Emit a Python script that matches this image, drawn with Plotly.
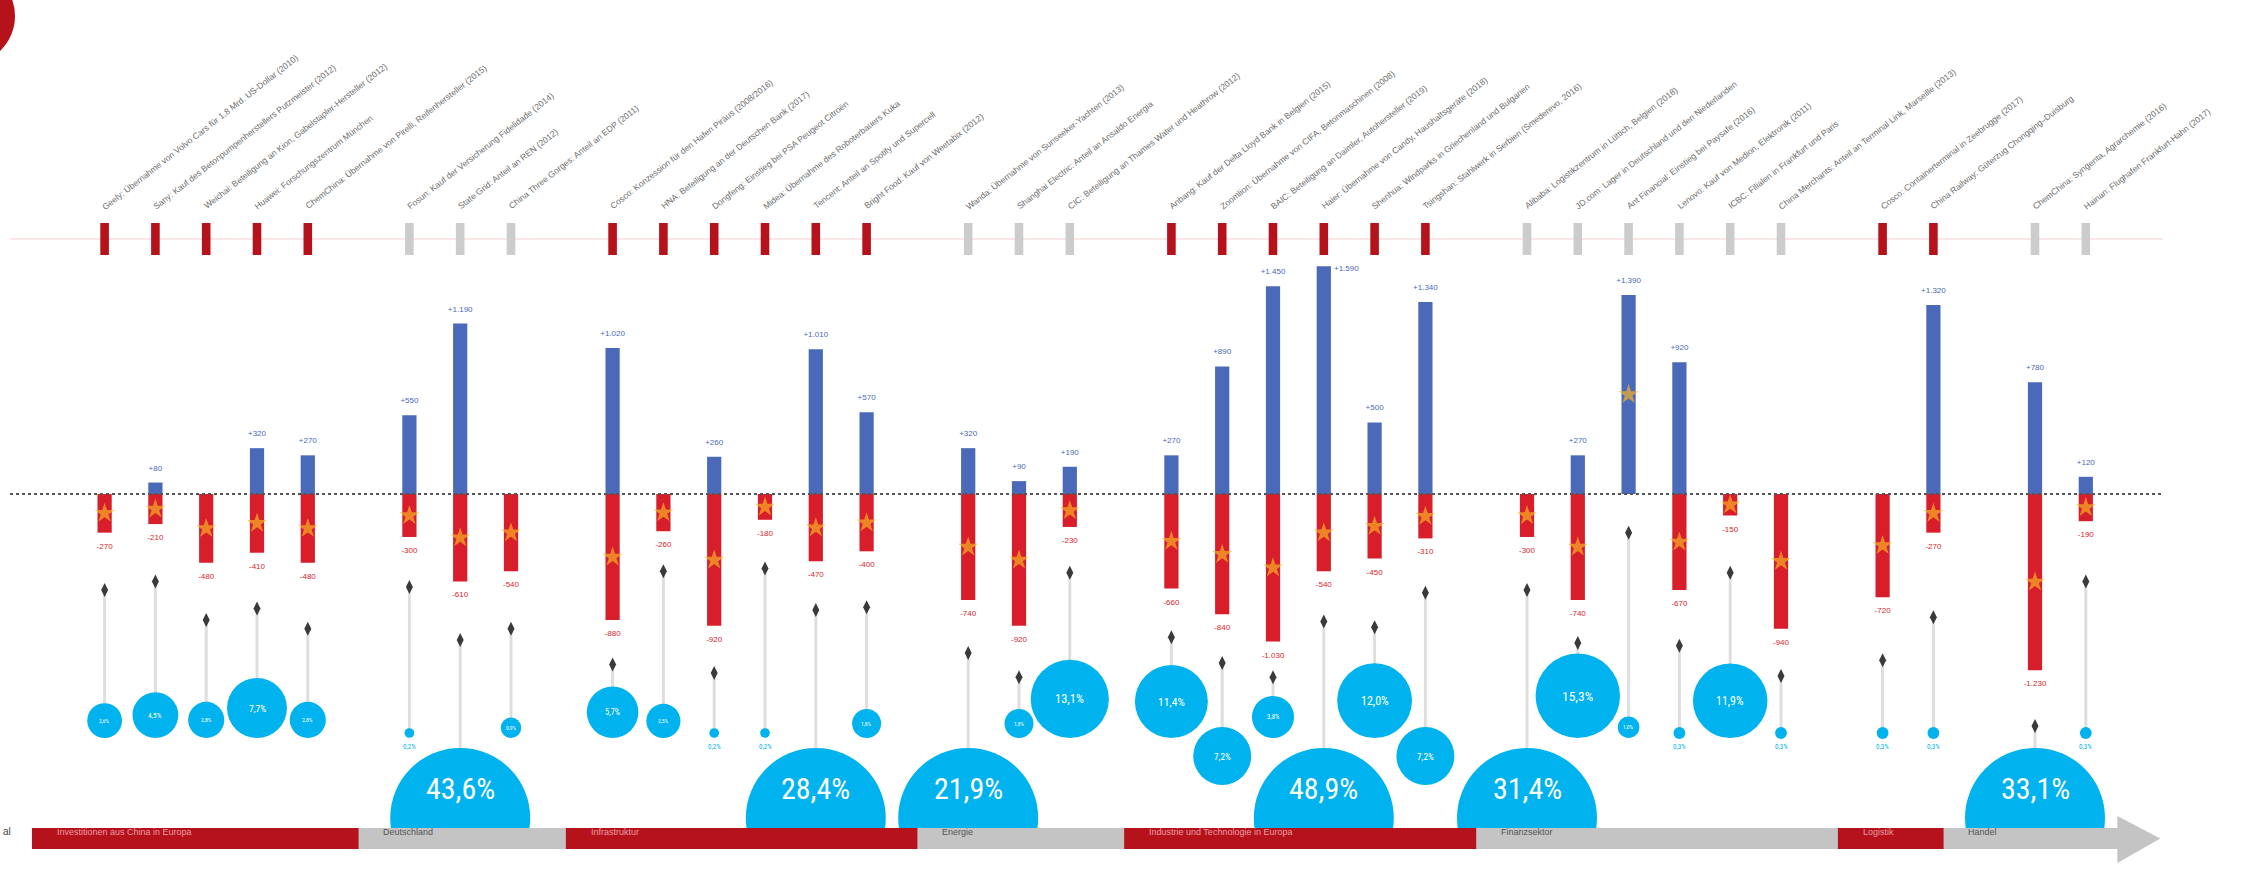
import plotly.graph_objects as go
import math

# ---------------- data ----------------
slots = [0, 1, 2, 3, 4, 6, 7, 8, 10, 11, 12, 13, 14, 15, 17, 18, 19,
         21, 22, 23, 24, 25, 26, 28, 29, 30, 31, 32, 33, 35, 36, 38, 39]
group = [0]*5 + [1]*3 + [2]*6 + [3]*3 + [4]*6 + [5]*6 + [6]*2 + [7]*2

blue = [0, 80, 0, 320, 270, 550, 1190, 0, 1020, 0, 260, 0, 1010, 570, 320, 90, 190,
        270, 890, 1450, 1590, 500, 1340, 0, 270, 1390, 920, 0, 0, 0, 1320, 780, 120]
red = [270, 210, 480, 410, 480, 300, 610, 540, 880, 260, 920, 180, 470, 400, 740, 920, 230,
       660, 840, 1030, 540, 450, 310, 300, 740, 0, 670, 150, 940, 720, 270, 1230, 190]
icon_level = [-670, -610, -880, -800, -940, -650, -1020, -940, -1190, -540, -1250, -520, -810,
              -790, -1110, -1280, -550, -1000, -1180, -1280, -890, -930, -690, -670, -1040,
              -270, -1060, -550, -1270, -1160, -860, -1620, -610]
pct = [2.6, 4.5, 2.8, 7.7, 2.8, 0.2, 43.6, 0.9, 5.7, 2.5, 0.2, 0.2, 28.4, 1.8, 21.9, 1.8, 13.1,
       11.4, 7.2, 3.8, 48.9, 12.0, 7.2, 31.4, 15.3, 1.0, 0.3, 11.9, 0.3, 0.3, 0.3, 33.1, 0.3]
lowered = [18, 22]

labels = [
    "Geely: Übernahme von Volvo Cars für 1,8 Mrd. US-Dollar (2010)",
    "Sany: Kauf des Betonpumpenherstellers Putzmeister (2012)",
    "Weichai: Beteiligung an Kion, Gabelstapler-Hersteller (2012)",
    "Huawei: Forschungszentrum München",
    "ChemChina: Übernahme von Pirelli, Reifenhersteller (2015)",
    "Fosun: Kauf der Versicherung Fidelidade (2014)",
    "State Grid: Anteil an REN (2012)",
    "China Three Gorges: Anteil an EDP (2011)",
    "Cosco: Konzession für den Hafen Piräus (2008/2016)",
    "HNA: Beteiligung an der Deutschen Bank (2017)",
    "Dongfeng: Einstieg bei PSA Peugeot Citroën",
    "Midea: Übernahme des Roboterbauers Kuka",
    "Tencent: Anteil an Spotify und Supercell",
    "Bright Food: Kauf von Weetabix (2012)",
    "Wanda: Übernahme von Sunseeker-Yachten (2013)",
    "Shanghai Electric: Anteil an Ansaldo Energia",
    "CIC: Beteiligung an Thames Water und Heathrow (2012)",
    "Anbang: Kauf der Delta Lloyd Bank in Belgien (2015)",
    "Zoomlion: Übernahme von CIFA, Betonmaschinen (2008)",
    "BAIC: Beteiligung an Daimler, Autohersteller (2019)",
    "Haier: Übernahme von Candy, Haushaltsgeräte (2018)",
    "Shenhua: Windparks in Griechenland und Bulgarien",
    "Tsingshan: Stahlwerk in Serbien (Smederevo, 2016)",
    "Alibaba: Logistikzentrum in Lüttich, Belgien (2018)",
    "JD.com: Lager in Deutschland und den Niederlanden",
    "Ant Financial: Einstieg bei Paysafe (2016)",
    "Lenovo: Kauf von Medion, Elektronik (2011)",
    "ICBC: Filialen in Frankfurt und Paris",
    "China Merchants: Anteil an Terminal Link, Marseille (2013)",
    "Cosco: Containerterminal in Zeebrugge (2017)",
    "China Railway: Güterzug Chongqing–Duisburg",
    "ChemChina: Syngenta, Agrarchemie (2016)",
    "Hainan: Flughafen Frankfurt-Hahn (2017)",
]

band_start = [-1.43, 5.0, 9.08, 16.0, 20.07, 27.0, 34.12, 36.2]
band_end = [5.0, 9.08, 16.0, 20.07, 27.0, 34.12, 36.2, 39.67]
band_text = ["Investitionen aus China in Europa", "Deutschland", "Infrastruktur", "Energie",
             "Industrie und Technologie in Europa", "Finanzsektor", "Logistik", "Handel"]

# ---------------- geometry helpers ----------------
W, H = 2246, 872
PX_X = 50.8                  # px per slot
X0 = -104.6 / PX_X
X1 = X0 + W / PX_X
ZERO_PX = 494.0
PX_Y = 0.14324               # px per value unit
Y1 = ZERO_PX / PX_Y
Y0 = -(H - ZERO_PX) / PX_Y


def py(px):                  # pixel row -> data y
    return (ZERO_PX - px) / PX_Y


def pfrac(px):               # pixel row -> paper y
    return 1 - px / H


BLUE = "#4a69b8"
RED = "#d81e2a"
CYAN = "#00b3ee"
DRED = "#b5121b"
GRAY = "#c4c4c4"
NARROW = "Liberation Sans Narrow, Roboto Condensed, Liberation Sans, Arial"

fig = go.Figure()

# bars
fig.add_trace(go.Bar(x=slots, y=blue, width=0.28, marker=dict(color=BLUE, line_width=0),
                     hoverinfo="skip"))
fig.add_trace(go.Bar(x=slots, y=[-v for v in red], width=0.28,
                     marker=dict(color=RED, line_width=0), hoverinfo="skip"))

# stars on the bars
sx, sy = [], []
for s, b, r in zip(slots, blue, red):
    if r > 0:
        sx.append(s); sy.append(-r / 2)
    elif b > 0:
        sx.append(s); sy.append(b / 2)
fig.add_trace(go.Scatter(x=sx, y=sy, mode="markers", hoverinfo="skip",
                         marker=dict(symbol="star", size=15, color="rgba(246,176,38,0.7)",
                                     line=dict(width=0))))

# value labels (a label that would hit the tick row goes beside the bar top)
LIMIT = py(262)
bx, by, bt = [], [], []
sidex, sidey, sidet = [], [], []
for s, b in zip(slots, blue):
    if b <= 0:
        continue
    t = "+" + f"{b:,}".replace(",", ".")
    if b + 98 > LIMIT:
        sidex.append(s + 0.2); sidey.append(b - 20); sidet.append(t)
    else:
        bx.append(s); by.append(b + 98); bt.append(t)
fig.add_trace(go.Scatter(x=bx, y=by, mode="text", text=bt, hoverinfo="skip",
                         textfont=dict(size=8, color=BLUE, family="Liberation Sans")))
fig.add_trace(go.Scatter(x=sidex, y=sidey, mode="text", text=sidet, hoverinfo="skip",
                         textposition="middle right",
                         textfont=dict(size=8, color=BLUE, family="Liberation Sans")))
rx = [s for s, r in zip(slots, red) if r > 0]
ry = [-r - 98 for r in red if r > 0]
rt = ["-" + f"{r:,}".replace(",", ".") for r in red if r > 0]
fig.add_trace(go.Scatter(x=rx, y=ry, mode="text", text=rt, hoverinfo="skip",
                         textfont=dict(size=8, color=RED, family="Liberation Sans")))

# bubbles geometry
rad, cy = [], []
for i, p in enumerate(pct):
    if p >= 20:
        r = 70.0; c = 818.0
    elif p < 0.5:
        r = 10.8 * math.sqrt(p); c = 733.0
    else:
        r = 10.8 * math.sqrt(p)
        c = (785.0 if i in lowered else 738.0) - r
    rad.append(r); cy.append(c)

# stems
stx, sty = [], []
for s, ic, r, c in zip(slots, icon_level, rad, cy):
    stx += [s, s, None]
    sty += [ic, py(c - r + 2), None]
fig.add_trace(go.Scatter(x=stx, y=sty, mode="lines", hoverinfo="skip",
                         line=dict(color="#dedede", width=3)))

# icons
fig.add_trace(go.Scatter(x=slots, y=icon_level, mode="markers", hoverinfo="skip",
                         marker=dict(symbol="diamond-tall", size=10, color="#3a3a3a",
                                     line=dict(width=0))))

# bubbles
fig.add_trace(go.Scatter(x=slots, y=[py(c) for c in cy], mode="markers", hoverinfo="skip",
                         marker=dict(size=[2 * r for r in rad], color=CYAN, line=dict(width=0),
                                     opacity=1)))


def fmt(p):
    return f"{p:.1f}".replace(".", ",") + "%"


annotations = []
for s, p, r, c in zip(slots, pct, rad, cy):
    if p >= 20:
        annotations.append(dict(x=s, y=pfrac(808), yref="paper", text=fmt(p), showarrow=False,
                                font=dict(size=30, color="white", family=NARROW)))
    elif p < 0.5:
        annotations.append(dict(x=s, y=py(c + 14), text=fmt(p), showarrow=False,
                                font=dict(size=7, color=CYAN, family=NARROW)))
    else:
        annotations.append(dict(x=s, y=py(c), text=fmt(p), showarrow=False,
                                font=dict(size=max(5.5, r * 0.32), color="white", family=NARROW)))

# diagonal labels
for s, t in zip(slots, labels):
    annotations.append(dict(x=s - 7 / PX_X, y=pfrac(214), yref="paper", text=t, showarrow=False,
                            textangle=-38, xanchor="left", yanchor="bottom",
                            font=dict(size=8.6, color="#6e6e6e", family="Liberation Sans")))

# band labels
for a, t, k in zip(band_start, band_text, range(len(band_text))):
    annotations.append(dict(x=a + 0.45, y=pfrac(838.5), yref="paper", text=t, showarrow=False,
                            xanchor="left",
                            font=dict(size=9, family="Liberation Sans",
                                      color="#ec9da2" if k % 2 == 0 else "#555555")))
annotations.append(dict(x=1 / W, xref="paper", y=pfrac(838.5), yref="paper", text="al",
                        showarrow=False, xanchor="left",
                        font=dict(size=10, color="#444", family="Liberation Sans")))

shapes = []
x_left = (10 / W)
x_right = (2163 / W)
# pink row line and zero dotted line
shapes.append(dict(type="line", xref="paper", yref="paper", x0=x_left, x1=x_right,
                   y0=pfrac(239), y1=pfrac(239), line=dict(color="#f6cfd1", width=1), layer="below"))
shapes.append(dict(type="line", xref="paper", yref="y", x0=x_left, x1=x_right,
                   y0=0, y1=0, line=dict(color="#555555", width=2, dash="dot"), layer="above"))
# top ticks
for s, g in zip(slots, group):
    col = DRED if g % 2 == 0 else "#cccccc"
    shapes.append(dict(type="rect", xref="x", yref="paper", x0=s - 4.3 / PX_X, x1=s + 4.3 / PX_X,
                       y0=pfrac(255), y1=pfrac(223), fillcolor=col, line=dict(width=0),
                       layer="below"))
# white cover below the band
shapes.append(dict(type="rect", xref="paper", yref="paper", x0=0, x1=1, y0=0, y1=pfrac(849),
                   fillcolor="white", line=dict(width=0), layer="above"))
# band
shapes.append(dict(type="rect", xref="x", yref="paper", x0=band_start[0], x1=band_end[-1],
                   y0=pfrac(849), y1=pfrac(828), fillcolor=GRAY, line=dict(width=0), layer="above"))
for k, (a, b) in enumerate(zip(band_start, band_end)):
    if k % 2 == 0:
        shapes.append(dict(type="rect", xref="x", yref="paper", x0=a, x1=b,
                           y0=pfrac(849), y1=pfrac(828), fillcolor=DRED, line=dict(width=0),
                           layer="above"))
# arrow head
ax0 = band_end[-1] - 0.05
atip = ax0 + 43 / PX_X
yb, yt, ym = pfrac(863), pfrac(816), pfrac(838.5)
shapes.append(dict(type="path", xref="x", yref="paper",
                   path=f"M {ax0} {yb} L {ax0} {yt} L {atip} {ym} Z",
                   fillcolor=GRAY, line=dict(width=0), layer="above"))
# partial red circle top left
shapes.append(dict(type="circle", xref="paper", yref="paper", x0=-80 / W, x1=15 / W,
                   y0=pfrac(64), y1=pfrac(-32), fillcolor=DRED, line=dict(width=0), layer="above"))

fig.update_layout(
    width=W, height=H, margin=dict(l=0, r=0, t=0, b=0),
    paper_bgcolor="white", plot_bgcolor="white", showlegend=False,
    barmode="overlay",
    xaxis=dict(range=[X0, X1], visible=False, fixedrange=True),
    yaxis=dict(range=[Y0, Y1], visible=False, fixedrange=True),
    annotations=annotations, shapes=shapes,
)

fig.write_html("out.html", config={"displayModeBar": False, "staticPlot": True},
               post_script="document.body.style.margin='0';document.body.style.overflow='hidden';")
